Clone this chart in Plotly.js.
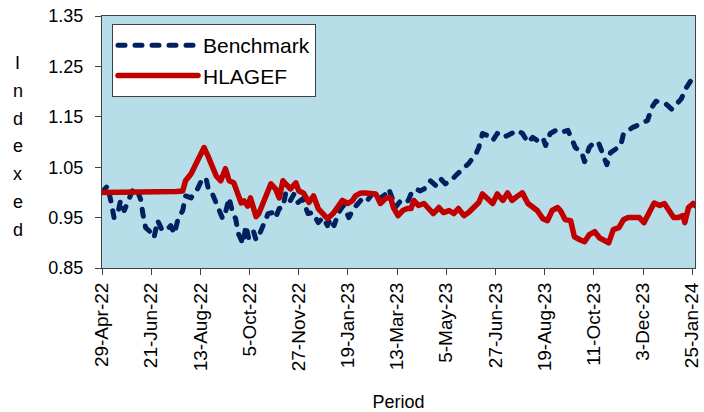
<!DOCTYPE html>
<html>
<head>
<meta charset="utf-8">
<script src="https://cdn.plot.ly/plotly-3.0.1.min.js"></script>
<style>
  html, body { margin: 0; padding: 0; background: #ffffff; }
  #chart { width: 704px; height: 412px; }
  .scatterlayer .js-line, .legendlines path { stroke-linecap: round; stroke-linejoin: round; }
</style>
</head>
<body>
<div id="chart"></div>
<script>
// Days elapsed since 29-Apr-22 and index values
const startDate = '2022-04-29';

const benchDays = [0, 6, 10, 13, 17, 20, 24, 28, 31, 34, 39, 42, 44, 47, 53, 56, 60, 64, 69, 74, 78, 82, 87, 90, 96, 99, 103, 107, 112, 115, 119, 123, 126, 130, 133, 137, 141, 144, 147, 152, 155, 158, 163, 166, 169, 173, 179, 184, 187, 191, 195, 198, 203, 207, 211, 216, 222, 227, 233, 238, 243, 246, 250, 255, 260, 266, 271, 276, 281, 286, 292, 297, 300, 306, 309, 313, 316, 322, 327, 330, 333, 338, 343, 349, 354, 360, 365, 370, 376, 381, 386, 390, 395, 399, 403, 406, 410, 415, 421, 426, 432, 437, 442, 448, 453, 459, 464, 469, 475, 478, 483, 489, 494, 502, 507, 510, 517, 520, 525, 530, 535, 538, 544, 548, 553, 559, 562, 566, 572, 577, 582, 588, 592, 597, 603, 608, 614, 619, 624, 630, 635, 639];
const benchVals = [1.000, 1.013, 0.979, 0.950, 0.958, 0.984, 0.964, 0.980, 0.993, 1.009, 0.999, 0.984, 0.958, 0.930, 0.920, 0.910, 0.944, 0.928, 0.924, 0.934, 0.918, 0.948, 0.964, 0.993, 0.989, 0.999, 1.007, 1.023, 1.029, 1.003, 0.997, 0.978, 0.964, 0.948, 0.960, 0.989, 0.958, 0.948, 0.918, 0.898, 0.934, 0.910, 0.924, 0.906, 0.914, 0.930, 0.958, 0.960, 0.950, 0.968, 0.970, 0.999, 0.984, 0.997, 0.980, 0.987, 0.958, 0.960, 0.940, 0.950, 0.934, 0.948, 0.934, 0.960, 0.974, 0.950, 0.968, 0.978, 0.989, 0.984, 0.999, 0.987, 0.989, 0.997, 1.007, 0.987, 0.970, 0.984, 0.980, 0.984, 0.997, 1.007, 1.003, 1.009, 1.023, 1.013, 1.027, 1.017, 1.023, 1.033, 1.043, 1.049, 1.057, 1.067, 1.077, 1.089, 1.117, 1.113, 1.103, 1.117, 1.109, 1.113, 1.117, 1.123, 1.117, 1.099, 1.109, 1.103, 1.109, 1.093, 1.117, 1.123, 1.119, 1.123, 1.103, 1.089, 1.079, 1.061, 1.089, 1.099, 1.099, 1.083, 1.055, 1.079, 1.085, 1.093, 1.117, 1.123, 1.129, 1.133, 1.137, 1.143, 1.167, 1.181, 1.177, 1.175, 1.165, 1.177, 1.185, 1.209, 1.223, 1.225];

const fundDays = [0, 20, 40, 60, 80, 87, 90, 96, 99, 103, 107, 110, 114, 117, 123, 128, 133, 137, 142, 146, 150, 153, 157, 160, 164, 166, 169, 173, 177, 182, 187, 191, 195, 200, 203, 209, 212, 217, 223, 228, 233, 238, 243, 249, 254, 259, 265, 270, 273, 279, 284, 290, 295, 300, 306, 311, 314, 319, 324, 329, 333, 336, 341, 347, 352, 357, 363, 368, 374, 379, 384, 390, 395, 400, 406, 410, 415, 421, 426, 432, 437, 442, 448, 453, 459, 464, 469, 475, 480, 485, 491, 494, 499, 505, 509, 515, 520, 525, 531, 536, 541, 546, 551, 557, 562, 567, 573, 579, 584, 590, 595, 601, 606, 611, 616, 621, 626, 628, 632, 637, 639];
const fundVals = [1.000, 1.000, 1.000, 1.000, 1.002, 1.003, 1.023, 1.037, 1.049, 1.059, 1.077, 1.089, 1.073, 1.057, 1.033, 1.023, 1.047, 1.023, 1.019, 0.999, 0.979, 0.983, 0.973, 0.989, 0.958, 0.952, 0.958, 0.978, 0.993, 1.017, 1.007, 0.989, 1.023, 1.013, 1.007, 1.019, 1.003, 0.999, 0.980, 0.993, 0.968, 0.958, 0.948, 0.958, 0.970, 0.984, 0.978, 0.984, 0.993, 0.999, 0.999, 0.997, 0.997, 0.978, 0.989, 0.989, 0.970, 0.954, 0.964, 0.968, 0.968, 0.984, 0.974, 0.978, 0.968, 0.958, 0.970, 0.960, 0.964, 0.958, 0.968, 0.954, 0.960, 0.970, 0.980, 0.997, 0.989, 0.978, 0.997, 0.984, 0.999, 0.984, 0.993, 0.999, 0.978, 0.970, 0.964, 0.948, 0.944, 0.964, 0.970, 0.964, 0.946, 0.944, 0.912, 0.906, 0.902, 0.916, 0.922, 0.910, 0.906, 0.900, 0.926, 0.930, 0.946, 0.950, 0.950, 0.950, 0.940, 0.964, 0.979, 0.974, 0.978, 0.964, 0.950, 0.950, 0.954, 0.940, 0.970, 0.978, 0.974];

const tickDates = ['2022-04-29', '2022-06-21', '2022-08-13', '2022-10-05', '2022-11-27', '2023-01-19', '2023-03-13', '2023-05-05', '2023-06-27', '2023-08-19', '2023-10-11', '2023-12-03', '2024-01-25'];
const tickLabels = ['29-Apr-22', '21-Jun-22', '13-Aug-22', '5-Oct-22', '27-Nov-22', '19-Jan-23', '13-Mar-23', '5-May-23', '27-Jun-23', '19-Aug-23', '11-Oct-23', '3-Dec-23', '25-Jan-24'];
const yTicks = [0.85, 0.95, 1.05, 1.15, 1.25, 1.35];
const seriesNames = ['Benchmark', 'HLAGEF'];
const yTitle = 'Indexed';
const xTitle = 'Period';

function toDate(d) {
  const base = Date.UTC(2022, 3, 29);
  return new Date(base + d * 86400000).toISOString().slice(0, 10);
}

const font = 'Liberation Sans, Arial, sans-serif';

const traces = [
  {
    x: benchDays.map(toDate), y: benchVals, name: seriesNames[0],
    type: 'scatter', mode: 'lines',
    line: { color: '#002060', width: 5, dash: '7px,10px', shape: 'linear' }
  },
  {
    x: fundDays.map(toDate), y: fundVals, name: seriesNames[1],
    type: 'scatter', mode: 'lines',
    line: { color: '#C00000', width: 5.5 }
  }
];

const plotTop = 16, plotH = 252;
const annotations = yTitle.split('').map((ch, i) => ({
  text: ch, xref: 'paper', yref: 'paper',
  x: (18 - 102) / 593, y: 1 - ((63 + i * 27.8) - plotTop) / plotH,
  xanchor: 'center', yanchor: 'middle', showarrow: false,
  font: { family: font, size: 18, color: '#000000' }
}));

const layout = {
  width: 704, height: 412,
  margin: { l: 102, r: 9, t: 16, b: 144 },
  paper_bgcolor: '#ffffff',
  plot_bgcolor: '#B7DEE8',
  showlegend: true,
  legend: {
    x: (112 - 102) / 593, y: 1 - (24 - 16) / 252, xanchor: 'left', yanchor: 'top',
    bgcolor: '#ffffff', bordercolor: '#404040', borderwidth: 1,
    font: { family: font, size: 21, color: '#000000' },
    itemwidth: 80, tracegroupgap: 0, entrywidth: 218
  },
  xaxis: {
    type: 'date',
    range: ['2022-04-29', '2024-01-28'],
    tickmode: 'array', tickvals: tickDates, ticktext: tickLabels,
    tickangle: -90,
    ticks: 'outside', ticklen: 6, tickcolor: '#404040', tickwidth: 1,
    showline: true, linecolor: '#404040', linewidth: 1, mirror: true,
    showgrid: false, zeroline: false,
    tickfont: { family: font, size: 19, color: '#000000' },
    title: { text: xTitle, font: { family: font, size: 18, color: '#000000' }, standoff: 27 },
    automargin: false
  },
  yaxis: {
    range: [0.85, 1.35],
    tickmode: 'array', tickvals: yTicks, ticktext: yTicks.map(v => v.toFixed(2)),
    ticks: 'outside', ticklen: 6, tickcolor: '#404040', tickwidth: 1,
    ticklabelstandoff: 8,
    showline: true, linecolor: '#404040', linewidth: 1, mirror: true,
    showgrid: false, zeroline: false,
    tickfont: { family: font, size: 18, color: '#000000' },
    automargin: false
  },
  annotations: annotations
};

Plotly.newPlot('chart', traces, layout, { displayModeBar: false, staticPlot: true });
</script>
</body>
</html>
